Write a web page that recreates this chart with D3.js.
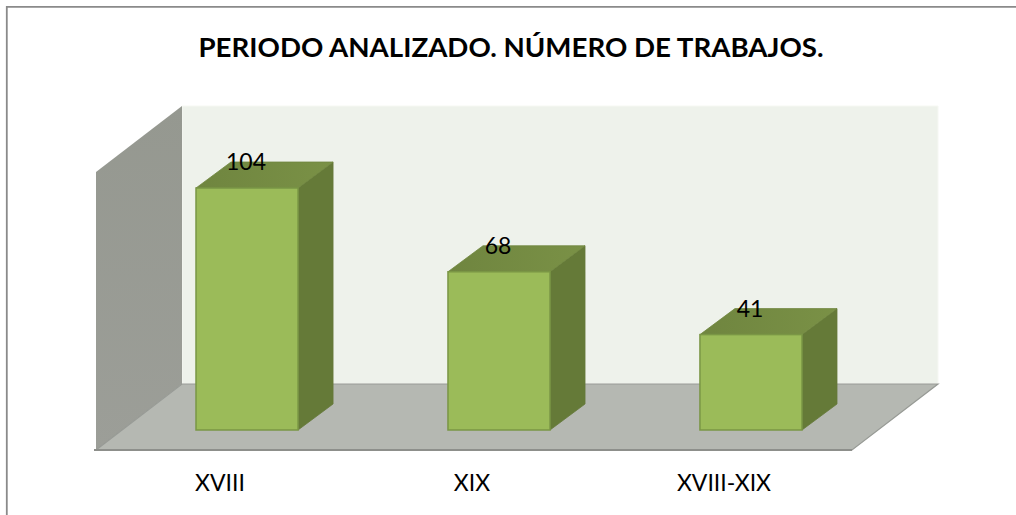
<!DOCTYPE html>
<html>
<head>
<meta charset="utf-8">
<script src="https://cdn.jsdelivr.net/npm/d3@7"></script>
<style>
  html, body { margin: 0; padding: 0; background: #fff; overflow: hidden; }
  text { font-family: Lato, "Open Sans", sans-serif; fill: #000; }
</style>
</head>
<body>
<script>
// datos
const categories = ['XVIII', 'XIX', 'XVIII-XIX'];
const values = [104, 68, 41];
const titleText = 'PERIODO ANALIZADO. NÚMERO DE TRABAJOS.';

const width = 1016;
const height = 515;

// profundidad de la perspectiva
const barDepthX = 35;
const barDepthY = 26;
const floorDepthX = 86;
const floorDepthY = 66;

const svg = d3.select('body')
  .append('svg')
  .attr('width', width)
  .attr('height', height)
  .style('display', 'block');

// marco exterior: solo arriba y a la izquierda
svg.append('path')
  .attr('d', 'M6.8,515V6.8H1016')
  .attr('fill', 'none')
  .attr('stroke', '#8a8a8a')
  .attr('stroke-width', 1.8);

svg.append('text')
  .attr('x', 511)
  .attr('y', 57)
  .attr('text-anchor', 'middle')
  .attr('font-size', 27)
  .attr('font-weight', 700)
  .attr('textLength', 625)
  .attr('lengthAdjust', 'spacingAndGlyphs')
  .text(titleText);

const x = d3.scaleBand()
  .domain(categories)
  .range([196, 802])
  .paddingInner(0.595)
  .paddingOuter(0);

const y = d3.scaleLinear()
  .domain([0, 104])
  .range([430, 188]);

const defs = svg.append('defs');
const wallGrad = defs.append('linearGradient')
  .attr('id', 'wallGrad')
  .attr('x1', 0).attr('y1', 0).attr('x2', 0).attr('y2', 1);
wallGrad.append('stop').attr('offset', '0%').attr('stop-color', '#959890');
wallGrad.append('stop').attr('offset', '100%').attr('stop-color', '#9c9e98');

const topGrad = defs.append('linearGradient')
  .attr('id', 'topGrad')
  .attr('x1', 0).attr('y1', 0).attr('x2', 1).attr('y2', 0);
topGrad.append('stop').attr('offset', '0%').attr('stop-color', '#6f853f');
topGrad.append('stop').attr('offset', '100%').attr('stop-color', '#7a9146');

const poly = pts => pts.map(p => p.join(',')).join(' ');

// paredes y suelo
const wallLeft = 96, wallRight = 852, wallBottom = 450, wallTop = 172;
const g = svg.append('g').attr('class', 'walls');

g.append('polygon')
  .attr('points', poly([
    [wallLeft + floorDepthX, wallTop - floorDepthY],
    [wallRight + floorDepthX, wallTop - floorDepthY],
    [wallRight + floorDepthX, wallBottom - floorDepthY],
    [wallLeft + floorDepthX, wallBottom - floorDepthY]
  ]))
  .attr('fill', '#eef2eb')
  .attr('stroke', '#f6f8f3');

g.append('polygon')
  .attr('points', poly([
    [wallLeft, wallTop],
    [wallLeft + floorDepthX, wallTop - floorDepthY],
    [wallLeft + floorDepthX, wallBottom - floorDepthY],
    [wallLeft, wallBottom]
  ]))
  .attr('fill', 'url(#wallGrad)');

g.append('polygon')
  .attr('points', poly([
    [wallLeft, wallBottom],
    [wallRight, wallBottom],
    [wallRight + floorDepthX, wallBottom - floorDepthY],
    [wallLeft + floorDepthX, wallBottom - floorDepthY]
  ]))
  .attr('fill', '#b5b8b2')
  .attr('stroke', '#979a95')
  .attr('stroke-width', 1.2);

g.append('line')
  .attr('x1', wallLeft - 2).attr('x2', wallRight)
  .attr('y1', wallBottom).attr('y2', wallBottom)
  .attr('stroke', '#8d8f8b')
  .attr('stroke-width', 2);

// barras
const bars = svg.selectAll('g.bar')
  .data(values)
  .join('g')
  .attr('class', 'bar');

const bx = (d, i) => x(categories[i]);
const bw = x.bandwidth();

bars.append('polygon')
  .attr('points', (d, i) => poly([
    [bx(d, i) + bw, y(d)],
    [bx(d, i) + bw + barDepthX, y(d) - barDepthY],
    [bx(d, i) + bw + barDepthX, y(0) - barDepthY],
    [bx(d, i) + bw, y(0)]
  ]))
  .attr('fill', '#657a38')
  .attr('stroke', '#64783a')
  .attr('stroke-width', 0.8);

bars.append('polygon')
  .attr('points', (d, i) => poly([
    [bx(d, i), y(d)],
    [bx(d, i) + barDepthX, y(d) - barDepthY],
    [bx(d, i) + bw + barDepthX, y(d) - barDepthY],
    [bx(d, i) + bw, y(d)]
  ]))
  .attr('fill', 'url(#topGrad)')
  .attr('stroke', '#70863f')
  .attr('stroke-width', 0.8);

bars.append('rect')
  .attr('x', bx)
  .attr('y', d => y(d))
  .attr('width', bw)
  .attr('height', d => y(0) - y(d))
  .attr('fill', '#9bbb59')
  .attr('stroke', '#7a9645')
  .attr('stroke-width', 1.5);

// etiquetas de valor
bars.append('text')
  .attr('x', (d, i) => bx(d, i) + bw / 2 - 1)
  .attr('y', d => y(d) - 18)
  .attr('text-anchor', 'middle')
  .attr('font-size', 23)
  .text(d => d);

// eje de categorias (las etiquetas van desplazadas a la izquierda como en el original)
const axisG = svg.append('g')
  .attr('transform', 'translate(-27,465)')
  .call(d3.axisBottom(x).tickSize(0).tickPadding(10));
axisG.select('.domain').remove();
axisG.selectAll('text')
  .attr('font-size', 23)
  .style('font-family', 'Lato, "Open Sans", sans-serif')
  .style('fill', '#000');
</script>
</body>
</html>
